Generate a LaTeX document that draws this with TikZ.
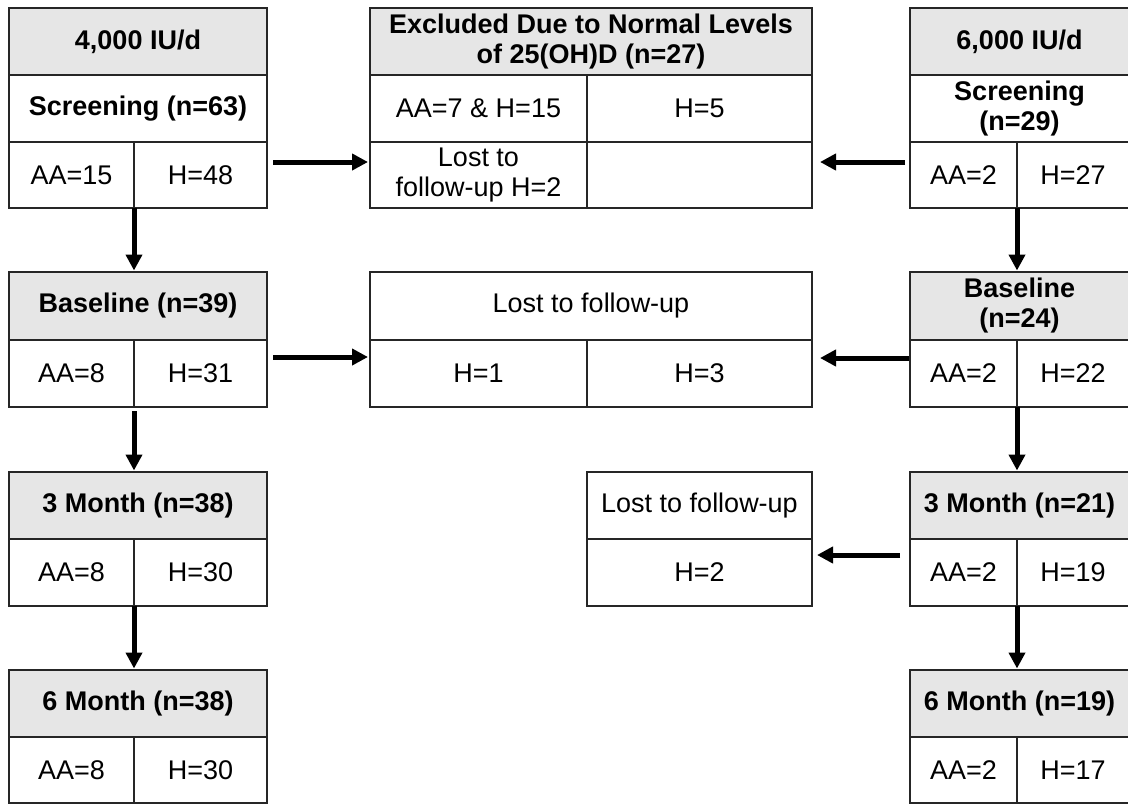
\documentclass[tikz,border=0pt]{standalone}
\usepackage{fontspec}
\setmainfont{Liberation Sans}
\usetikzlibrary{arrows.meta,calc}
\definecolor{hdrgray}{HTML}{E6E6E6}
\tikzset{
  cell/.style={draw=black!85, line width=1.5pt, inner sep=0pt, outer sep=0pt, anchor=north west,
    align=center, font=\fontsize{27}{30}\selectfont},
  hdr/.style={cell, fill=hdrgray, font=\fontsize{27}{30}\selectfont\bfseries},
  bhdr/.style={cell, font=\fontsize{27}{30}\selectfont\bfseries},
  arr/.style={line width=5pt, -{Triangle[length=16pt,width=16pt]}}
}
\begin{document}
\begin{tikzpicture}[x=1pt,y=-1pt]
\useasboundingbox (0,0) rectangle (1128,804);
% ---------- left column ----------
\node[hdr,  minimum width=258pt, minimum height=67pt] (L0h) at (9,8) {4,000 IU/d};
\node[bhdr, minimum width=258pt, minimum height=67pt] (L0s) at (9,75) {Screening (n=63)};
\node[cell, minimum width=125pt, minimum height=66pt] (L0a) at (9,142) {AA=15};
\node[cell, minimum width=133pt, minimum height=66pt] (L0b) at (134,142) {H=48};

\node[hdr,  minimum width=258pt, minimum height=68pt] (L1h) at (9,272) {Baseline (n=39)};
\node[cell, minimum width=125pt, minimum height=67pt] (L1a) at (9,340) {AA=8};
\node[cell, minimum width=133pt, minimum height=67pt] (L1b) at (134,340) {H=31};

\node[hdr,  minimum width=258pt, minimum height=67pt] (L2h) at (9,472) {3 Month (n=38)};
\node[cell, minimum width=125pt, minimum height=67pt] (L2a) at (9,539) {AA=8};
\node[cell, minimum width=133pt, minimum height=67pt] (L2b) at (134,539) {H=30};

\node[hdr,  minimum width=258pt, minimum height=67pt] (L3h) at (9,670) {6 Month (n=38)};
\node[cell, minimum width=125pt, minimum height=66pt] (L3a) at (9,737) {AA=8};
\node[cell, minimum width=133pt, minimum height=66pt] (L3b) at (134,737) {H=30};

% ---------- middle ----------
\node[hdr,  minimum width=442pt, minimum height=67pt] (M0h) at (370,8) {Excluded Due to Normal Levels\\of 25(OH)D (n=27)};
\node[cell, minimum width=217pt, minimum height=67pt] (M0a) at (370,75) {AA=7 \& H=15};
\node[cell, minimum width=225pt, minimum height=67pt] (M0b) at (587,75) {H=5};
\node[cell, minimum width=217pt, minimum height=66pt] (M0c) at (370,142) {Lost to\\follow-up H=2};
\node[cell, minimum width=225pt, minimum height=66pt] (M0d) at (587,142) {};

\node[cell, minimum width=442pt, minimum height=68pt] (M1h) at (370,272) {Lost to follow-up};
\node[cell, minimum width=217pt, minimum height=67pt] (M1a) at (370,340) {H=1};
\node[cell, minimum width=225pt, minimum height=67pt] (M1b) at (587,340) {H=3};

\node[cell, minimum width=225pt, minimum height=67pt] (M2h) at (587,472) {Lost to follow-up};
\node[cell, minimum width=225pt, minimum height=67pt] (M2a) at (587,539) {H=2};

% ---------- right column ----------
\node[hdr,  minimum width=219pt, minimum height=67pt] (R0h) at (910,8) {6,000 IU/d};
\node[bhdr, minimum width=219pt, minimum height=67pt] (R0s) at (910,75) {Screening\\(n=29)};
\node[cell, minimum width=107pt, minimum height=66pt] (R0a) at (910,142) {AA=2};
\node[cell, minimum width=112pt, minimum height=66pt] (R0b) at (1017,142) {H=27};

\node[hdr,  minimum width=219pt, minimum height=68pt] (R1h) at (910,272) {Baseline\\(n=24)};
\node[cell, minimum width=107pt, minimum height=67pt] (R1a) at (910,340) {AA=2};
\node[cell, minimum width=112pt, minimum height=67pt] (R1b) at (1017,340) {H=22};

\node[hdr,  minimum width=219pt, minimum height=67pt] (R2h) at (910,472) {3 Month (n=21)};
\node[cell, minimum width=107pt, minimum height=67pt] (R2a) at (910,539) {AA=2};
\node[cell, minimum width=112pt, minimum height=67pt] (R2b) at (1017,539) {H=19};

\node[hdr,  minimum width=219pt, minimum height=67pt] (R3h) at (910,670) {6 Month (n=19)};
\node[cell, minimum width=107pt, minimum height=66pt] (R3a) at (910,737) {AA=2};
\node[cell, minimum width=112pt, minimum height=66pt] (R3b) at (1017,737) {H=17};

% ---------- horizontal arrows ----------
\draw[arr] ($(L0b.north east)+(6,20)$) -- ($(M0c.north west)+(-2,20)$);
\draw[arr] ($(L1b.north east)+(6,17)$) -- ($(M1a.north west)+(-2,17)$);
\draw[arr] ($(R0a.north west)+(-5,20)$) -- ($(M0d.north east)+(8,20)$);
\draw[arr] ($(R1a.north west)+(-1,18)$) -- ($(M1b.north east)+(8,18)$);
\draw[arr] ($(R2a.north west)+(-10,16)$) -- ($(M2a.north east)+(5,16)$);

% ---------- vertical arrows ----------
\draw[arr, shorten >=1.5pt] (L0b.south west) -- (L0b.south west |- L1h.north);
\draw[arr, shorten <=4pt, shorten >=1.5pt] (L1b.south west) -- (L1b.south west |- L2h.north);
\draw[arr, shorten >=1.5pt] (L2b.south west) -- (L2b.south west |- L3h.north);
\draw[arr, shorten >=1.5pt] (R0b.south west) -- (R0b.south west |- R1h.north);
\draw[arr, shorten >=1.5pt] (R1b.south west) -- (R1b.south west |- R2h.north);
\draw[arr, shorten >=1.5pt] (R2b.south west) -- (R2b.south west |- R3h.north);
\end{tikzpicture}
\end{document}
